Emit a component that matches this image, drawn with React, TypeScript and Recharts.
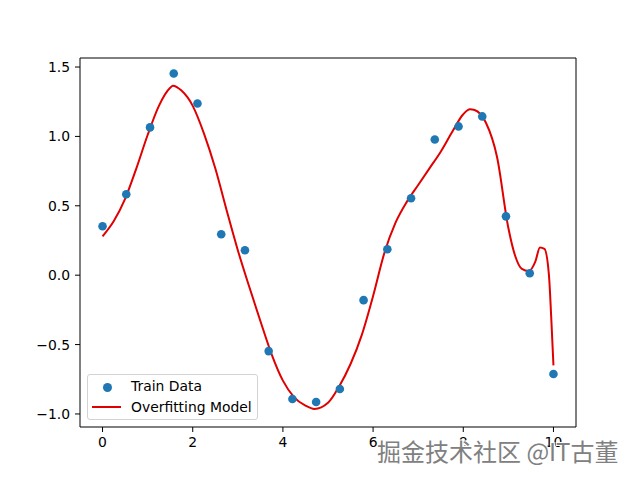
import {
  ComposedChart,
  Legend,
  Line,
  ReferenceLine,
  Scatter,
  XAxis,
  YAxis,
} from "recharts"

// training points (x = linspace(0, 10, 20))
const trainX = [
  0, 0.526, 1.053, 1.579, 2.105, 2.632, 3.158, 3.684, 4.211, 4.737, 5.263,
  5.789, 6.316, 6.842, 7.368, 7.895, 8.421, 8.947, 9.474, 10,
]
const trainY = [
  0.353, 0.583, 1.065, 1.453, 1.237, 0.295, 0.18, -0.547, -0.892, -0.914,
  -0.82, -0.18, 0.187, 0.554, 0.978, 1.072, 1.144, 0.424, 0.014, -0.712,
]

// fitted curve
const modelX = [
  0, 0.25, 0.5, 0.75, 1.0, 1.25, 1.5, 1.56, 1.75, 2.0, 2.25, 2.5, 2.75, 3.0,
  3.25, 3.5, 3.75, 4.0, 4.25, 4.5, 4.7, 5.0, 5.25, 5.5, 5.75, 6.0, 6.25, 6.5,
  6.75, 7.0, 7.25, 7.5, 7.75, 8.0, 8.15, 8.25, 8.5, 8.75, 9.0, 9.15, 9.3, 9.45,
  9.6, 9.7, 9.8, 9.9, 9.95, 10,
]
const modelY = [
  0.28, 0.39, 0.55, 0.77, 1.01, 1.22, 1.35, 1.365, 1.33, 1.22, 1.02, 0.77,
  0.47, 0.18, -0.08, -0.33, -0.57, -0.76, -0.88, -0.94, -0.964, -0.92, -0.8,
  -0.64, -0.43, -0.15, 0.16, 0.38, 0.53, 0.65, 0.77, 0.89, 1.03, 1.16, 1.195,
  1.19, 1.1, 0.85, 0.34, 0.14, 0.045, 0.03, 0.1, 0.2, 0.19, 0.0, -0.3, -0.65,
]

const xTicks = [0, 2, 4, 6, 8, 10]
const yTicks = [-1, -0.5, 0, 0.5, 1, 1.5]

const trainData = trainX.map((x, i) => ({ x, y: trainY[i] }))
const modelData = modelX.map((x, i) => ({ x, y: modelY[i] }))

const X_DOMAIN: [number, number] = [-0.5, 10.5]
const Y_DOMAIN: [number, number] = [-1.094, 1.565]

const FONT = "'DejaVu Sans', sans-serif"
const tickStyle = { fontSize: 13.9, fill: "#000", fontFamily: FONT }
const fmtY = (v: number) => v.toFixed(1).replace("-", "\u2212")

function MplLegend() {
  return (
    <div
      style={{
        position: "relative",
        width: 171,
        height: 46,
        border: "1px solid #d3d3d3",
        borderRadius: 3,
        background: "rgba(255,255,255,0.8)",
        fontFamily: FONT,
        fontSize: 13.9,
        color: "#000",
        boxSizing: "border-box",
      }}
    >
      <div
        style={{
          position: "absolute",
          left: 15,
          top: 8,
          width: 9,
          height: 9,
          borderRadius: "50%",
          background: "#1f77b4",
        }}
      />
      <div style={{ position: "absolute", left: 43, top: 3, lineHeight: "16px" }}>
        Train Data
      </div>
      <div
        style={{
          position: "absolute",
          left: 4,
          top: 31,
          width: 29,
          height: 2,
          background: "#e00000",
        }}
      />
      <div style={{ position: "absolute", left: 43, top: 24, lineHeight: "16px" }}>
        Overfitting Model
      </div>
    </div>
  )
}

export default function App() {
  return (
    <div style={{ position: "relative", width: 640, height: 480, background: "#fff" }}>
      <style>{"body{margin:0}"}</style>
      <ComposedChart
        width={640}
        height={480}
        margin={{ top: 58, right: 64, bottom: 0, left: 0 }}
      >
        <XAxis
          type="number"
          dataKey="x"
          domain={X_DOMAIN}
          ticks={xTicks}
          height={53}
          tick={tickStyle}
          tickSize={5}
          tickMargin={5}
          stroke="#000"
          allowDataOverflow
        />
        <YAxis
          type="number"
          dataKey="y"
          domain={Y_DOMAIN}
          ticks={yTicks}
          width={80}
          tick={tickStyle}
          tickFormatter={fmtY}
          tickSize={5}
          tickMargin={5}
          stroke="#000"
          allowDataOverflow
        />
        {/* top and right spines */}
        <ReferenceLine y={Y_DOMAIN[1]} stroke="#000" strokeWidth={1} />
        <ReferenceLine x={X_DOMAIN[1]} stroke="#000" strokeWidth={1} />
        <Scatter
          name="Train Data"
          data={trainData}
          dataKey="y"
          fill="#1f77b4"
          isAnimationActive={false}
          shape={(p: any) => <circle cx={p.cx} cy={p.cy} r={4.3} fill="#1f77b4" />}
        />
        <Line
          name="Overfitting Model"
          data={modelData}
          dataKey="y"
          type="monotone"
          stroke="#e00000"
          strokeWidth={2}
          dot={false}
          isAnimationActive={false}
        />
        <Legend
          layout="vertical"
          align="center"
          verticalAlign="middle"
          content={<MplLegend />}
          wrapperStyle={{ left: 87, top: 374, width: 171 }}
        />
      </ComposedChart>
      <div
        style={{
          position: "absolute",
          left: 377,
          top: 433,
          fontFamily: "'Noto Sans CJK SC', sans-serif",
          fontSize: 24,
          color: "#808080",
          whiteSpace: "nowrap",
          textShadow: "1px 1px 0 #fff, -1px -1px 0 #fff, 1px -1px 0 #fff, -1px 1px 0 #fff",
        }}
      >
        掘金技术社区 @IT古董
      </div>
    </div>
  )
}
